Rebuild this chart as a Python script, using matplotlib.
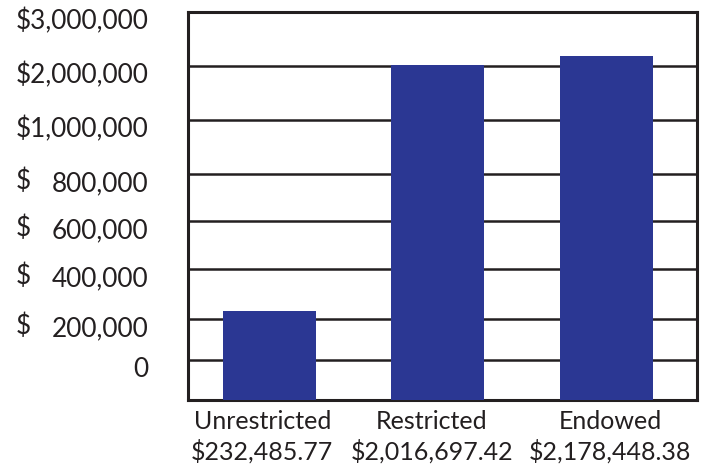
import numpy as np
import matplotlib
matplotlib.use("Agg")
import matplotlib.pyplot as plt
import matplotlib.transforms as mtransforms

# data
categories = ["Unrestricted", "Restricted", "Endowed"]
amounts = [232485.77, 2016697.42, 2178448.38]
tick_values = [0, 200000, 400000, 600000, 800000, 1000000, 2000000, 3000000]

# the original axis is hand-drawn: gridlines are not evenly spaced in value
# so map values onto the drawn positions piecewise
Y_FLOOR = -195000
scale_vals = np.array([Y_FLOOR] + tick_values, dtype=float)
scale_pos = np.array([0, 40, 81, 131, 179, 226, 280, 334, 388], dtype=float)


def fwd(v):
    return np.interp(v, scale_vals, scale_pos)


def inv(p):
    return np.interp(p, scale_pos, scale_vals)


INK = "#231f20"
BAR = "#2b3793"
FONT = ["Lato", "DejaVu Sans"]

plt.rcParams["font.family"] = FONT

fig = plt.figure(figsize=(7.1, 4.66), dpi=100)
ax = fig.add_axes([188.5 / 710, 1 - 400 / 466, (697 - 188.5) / 710, 388 / 466])

ax.set_yscale("function", functions=(fwd, inv))
ax.set_ylim(Y_FLOOR, tick_values[-1])

x = np.arange(len(categories))
vals = np.array(amounts)
ax.bar(x, vals - Y_FLOOR, bottom=Y_FLOOR, width=0.55, color=BAR, zorder=3)
ax.set_xlim(-0.479, 2.539)

# y ticks / grid
def fmt(v):
    if v == 0:
        return "0"
    if v >= 1000000:
        return f"${v:,.0f}"
    return f"{v:,.0f}"

ax.set_yticks(tick_values)
ax.set_yticklabels([fmt(v) for v in tick_values])
ax.yaxis.grid(True, color=INK, linewidth=1.8)
ax.set_axisbelow(True)
ax.tick_params(axis="y", length=0, pad=29, labelsize=18.8, labelcolor=INK)

# labels sit a little below their gridlines in the original
offset = mtransforms.ScaledTranslation(0, -0.07, fig.dpi_scale_trans)
for lbl in ax.yaxis.get_majorticklabels():
    lbl.set_transform(lbl.get_transform() + offset)

# separate "$" column for the smaller amounts
dollar_tr = mtransforms.blended_transform_factory(fig.transFigure, ax.transData) + offset
for v in tick_values:
    if 0 < v < 1000000:
        ax.text(16 / 710, v, "$", transform=dollar_tr, ha="left", va="center",
                fontsize=18.8, color=INK)

# x labels
ax.set_xticks(x)
ax.set_xticklabels([f"{c}\n${a:,.2f}" for c, a in zip(categories, amounts)],
                   linespacing=1.3)
ax.tick_params(axis="x", length=0, pad=7, labelsize=18, labelcolor=INK)

# the category labels are not quite centred under their bars in the original
shifts_px = [-7, -6, 4]
for lbl, dx in zip(ax.xaxis.get_majorticklabels(), shifts_px):
    lbl.set_transform(lbl.get_transform()
                      + mtransforms.ScaledTranslation(dx / 100, 0, fig.dpi_scale_trans))

for s in ax.spines.values():
    s.set_color(INK)
    s.set_linewidth(2.2)

fig.savefig("out.png", dpi=100, facecolor="white")
